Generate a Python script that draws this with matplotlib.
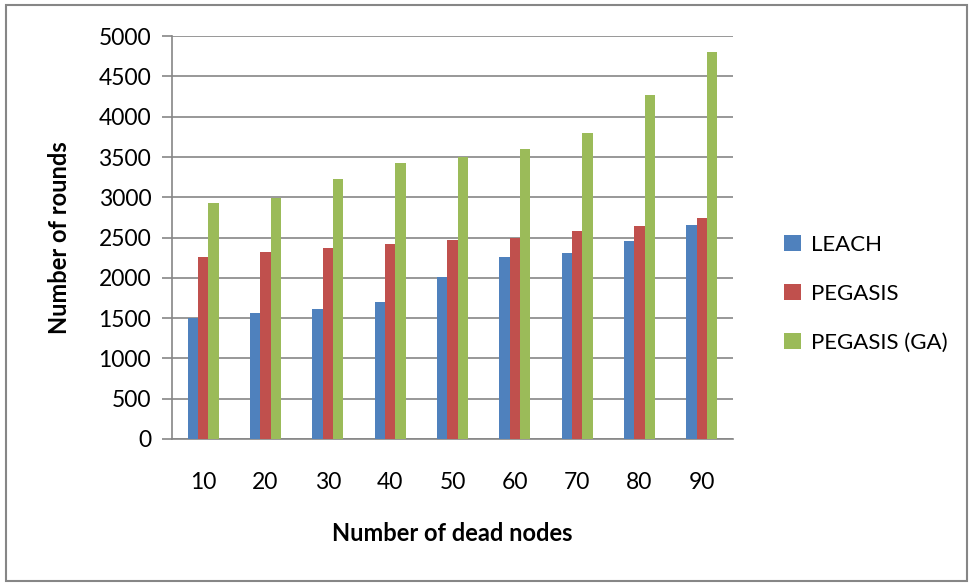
import numpy as np
import matplotlib
matplotlib.use("Agg")
import matplotlib.pyplot as plt
from matplotlib.patches import Rectangle

plt.rcParams["font.family"] = ["Lato", "DejaVu Sans"]

dead_nodes = ["10", "20", "30", "40", "50", "60", "70", "80", "90"]
leach = [1500, 1560, 1610, 1700, 2005, 2255, 2305, 2455, 2650]
pegasis = [2255, 2320, 2370, 2420, 2465, 2495, 2580, 2640, 2740]
pegasis_ga = [2925, 2995, 3225, 3420, 3500, 3605, 3795, 4265, 4800]

colors = ["#4F81BD", "#C0504D", "#9BBB59"]
grid_color = "#868686"

fig = plt.figure(figsize=(9.7, 5.83), dpi=100)
ax = fig.add_axes([0.1773, 0.247, 0.5784, 0.691])

x = np.arange(len(dead_nodes))
w = 0.167
ax.bar(x - w, leach, w, color=colors[0], label="LEACH", zorder=3)
ax.bar(x, pegasis, w, color=colors[1], label="PEGASIS", zorder=3)
ax.bar(x + w, pegasis_ga, w, color=colors[2], label="PEGASIS (GA)", zorder=3)

ax.set_xlim(-0.5, len(dead_nodes) - 0.5)
ax.set_ylim(0, 5000)
ax.set_yticks(np.arange(0, 5001, 500))
ax.set_xticks(x)
ax.set_xticklabels(dead_nodes)
ax.yaxis.grid(True, color=grid_color, linewidth=1.2, zorder=0)

for s in ["top", "right"]:
    ax.spines[s].set_visible(False)
ax.spines["left"].set_color(grid_color)
ax.spines["bottom"].set_color(grid_color)
ax.spines["left"].set_linewidth(1.2)
ax.spines["bottom"].set_linewidth(1.2)

ax.tick_params(axis="y", length=7, color=grid_color, width=1.2, labelsize=16.5, pad=8)
ax.tick_params(axis="x", length=0, labelsize=16.5, pad=24)

ax.set_xlabel("Number of dead nodes", fontsize=17, fontweight="bold", labelpad=21)
ax.set_ylabel("Number of rounds", fontsize=17, fontweight="bold", labelpad=20)

ax.legend(loc="center left", bbox_to_anchor=(1.055, 0.36), frameon=False,
          fontsize=16, handlelength=0.75, handleheight=0.75, labelspacing=1.3,
          handletextpad=0.45)

fig.patches.append(Rectangle((0.006, 0.004), 0.991, 0.987, transform=fig.transFigure,
                             fill=False, edgecolor=grid_color, linewidth=1.5))

fig.savefig("out.png", dpi=100)
